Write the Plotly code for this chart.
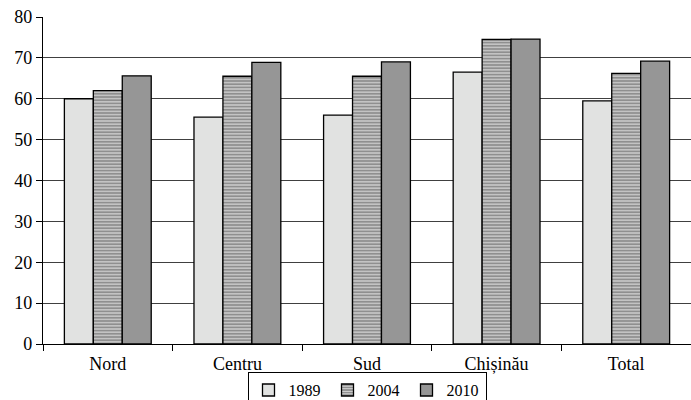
import plotly.graph_objects as go

categories = ["Nord", "Centru", "Sud", "Chișinău", "Total"]
v1989 = [60.0, 55.5, 56.0, 66.5, 59.5]
v2004 = [62.0, 65.5, 65.5, 74.5, 66.2]
v2010 = [65.6, 68.9, 69.0, 74.6, 69.2]
yticks = [0, 10, 20, 30, 40, 50, 60, 70, 80]

font = dict(family="Liberation Serif", size=18, color="black")
legend_font = dict(family="Liberation Serif", size=16, color="black")

fig = go.Figure()
fig.add_bar(name="1989", x=categories, y=v1989,
            marker=dict(color="#e1e2e1", line=dict(color="black", width=1.3)))
fig.add_bar(name="2004", x=categories, y=v2004,
            marker=dict(color="#8f8f8f", line=dict(color="black", width=1.3),
                        pattern=dict(shape="-", fgcolor="#e6e6e6", bgcolor="#8f8f8f",
                                     size=3.2, solidity=0.3, fillmode="replace")))
fig.add_bar(name="2010", x=categories, y=v2010,
            marker=dict(color="#969696", line=dict(color="black", width=1.3)))

fig.update_layout(
    width=691, height=400,
    margin=dict(l=43, r=0, t=17, b=56, autoexpand=False),
    plot_bgcolor="white", paper_bgcolor="white",
    font=font,
    barmode="group", bargap=0.33, bargroupgap=0,
    showlegend=True,
    legend=dict(orientation="h", x=0.5, xanchor="center", y=-0.086, yanchor="top",
                bordercolor="black", borderwidth=1, font=legend_font,
                itemwidth=30, tracegroupgap=0, traceorder="normal",
                entrywidth=34, entrywidthmode="pixels"),
)
fig.update_xaxes(showline=True, linecolor="black", linewidth=1.3, automargin=False,
                 ticks="outside", ticklen=6, tickcolor="black", tickson="boundaries",
                 ticklabelstandoff=3,
                 showgrid=False, tickfont=font)
fig.update_yaxes(range=[0, 80], tickvals=yticks, showline=True, linecolor="black", linewidth=1.3,
                 automargin=False,
                 ticks="outside", ticklen=6, tickcolor="black",
                 showgrid=True, gridcolor="#404040", gridwidth=1,
                 zeroline=False, tickfont=font)

fig.write_html("out.html", config={"displayModeBar": False},
               post_script="document.body.style.margin='0';")
